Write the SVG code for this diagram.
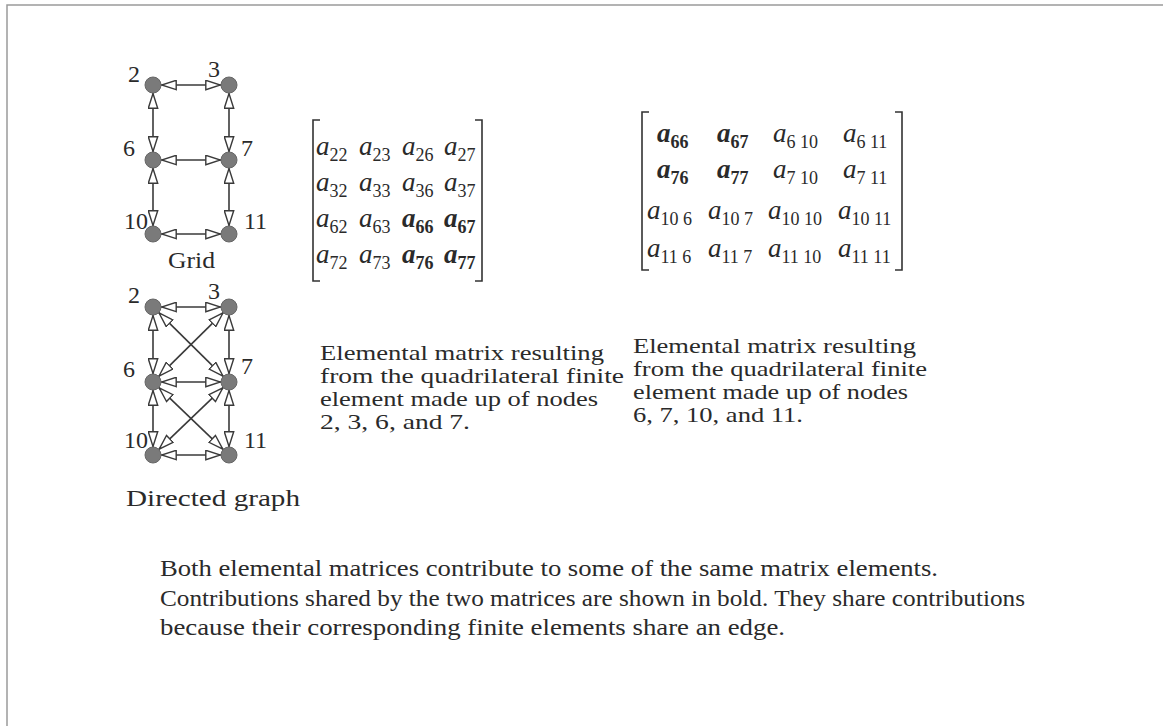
<svg xmlns="http://www.w3.org/2000/svg" width="1163" height="726" viewBox="0 0 1163 726">
<defs>
<style>
.t{font-family:"Liberation Serif","Times New Roman",serif;fill:#2a2a2a}
.lbl{font-size:24px}
.txt{font-size:24px}
.cap{font-size:21px}
.a{font-style:italic;font-size:27px}
.s{font-style:normal;font-size:18px}
.b{font-weight:bold}
.edge{stroke:#3a3a3a;stroke-width:1.6;fill:none;marker-start:url(#ah);marker-end:url(#ah)}
.node{fill:#7a7a7a;stroke:#666;stroke-width:1}
.br{stroke:#333;stroke-width:1.6;fill:none}
</style>
<marker id="ah" viewBox="0 0 16 11" refX="16" refY="5.5" markerWidth="16" markerHeight="11" orient="auto-start-reverse" markerUnits="userSpaceOnUse">
<path d="M0.8,0.8 L15.5,5.5 L0.8,10.2 z" fill="#fff" stroke="#3a3a3a" stroke-width="1.4"/>
</marker>
</defs>
<rect width="1163" height="726" fill="#fff"/>
<g id="frame"><path d="M7,726 L7,5 L1163,5" stroke="#9a9a9a" stroke-width="1.5" fill="none"/></g>

<g id="grid-connectors">
<line class="edge" x1="161" y1="85" x2="221" y2="85"/>
<line class="edge" x1="161" y1="160" x2="221" y2="160"/>
<line class="edge" x1="161" y1="234" x2="221" y2="234"/>
<line class="edge" x1="153" y1="93" x2="153" y2="152"/>
<line class="edge" x1="153" y1="168" x2="153" y2="226"/>
<line class="edge" x1="229" y1="93" x2="229" y2="152"/>
<line class="edge" x1="229" y1="168" x2="229" y2="226"/>
</g>
<g id="grid-n2"><circle class="node" cx="153" cy="85" r="8"/><text class="t lbl" x="128" y="82">2</text></g>
<g id="grid-n3"><circle class="node" cx="229" cy="85" r="8"/><text class="t lbl" x="208" y="77">3</text></g>
<g id="grid-n6"><circle class="node" cx="153" cy="160" r="8"/><text class="t lbl" x="123" y="156">6</text></g>
<g id="grid-n7"><circle class="node" cx="229" cy="160" r="8"/><text class="t lbl" x="241" y="156">7</text></g>
<g id="grid-n10"><circle class="node" cx="153" cy="234" r="8"/><text class="t lbl" x="124" y="229">10</text></g>
<g id="grid-n11"><circle class="node" cx="229" cy="234" r="8"/><text class="t lbl" x="244" y="229">11</text></g>
<g id="grid-label"><text class="t txt" x="168" y="268" textLength="47" lengthAdjust="spacingAndGlyphs">Grid</text></g>

<g id="dg-connectors">
<line class="edge" x1="161" y1="307" x2="221" y2="307"/>
<line class="edge" x1="161" y1="382" x2="221" y2="382"/>
<line class="edge" x1="161" y1="455" x2="221" y2="455"/>
<line class="edge" x1="153" y1="315" x2="153" y2="374"/>
<line class="edge" x1="153" y1="390" x2="153" y2="447"/>
<line class="edge" x1="229" y1="315" x2="229" y2="374"/>
<line class="edge" x1="229" y1="390" x2="229" y2="447"/>
<line class="edge" x1="158.7" y1="312.6" x2="223.3" y2="376.4"/>
<line class="edge" x1="223.3" y1="312.6" x2="158.7" y2="376.4"/>
<line class="edge" x1="158.8" y1="387.6" x2="223.2" y2="449.4"/>
<line class="edge" x1="223.2" y1="387.6" x2="158.8" y2="449.4"/>
</g>
<g id="dg-n2"><circle class="node" cx="153" cy="307" r="8"/><text class="t lbl" x="128" y="303">2</text></g>
<g id="dg-n3"><circle class="node" cx="229" cy="307" r="8"/><text class="t lbl" x="208" y="299">3</text></g>
<g id="dg-n6"><circle class="node" cx="153" cy="382" r="8"/><text class="t lbl" x="123" y="377">6</text></g>
<g id="dg-n7"><circle class="node" cx="229" cy="382" r="8"/><text class="t lbl" x="241" y="374">7</text></g>
<g id="dg-n10"><circle class="node" cx="153" cy="455" r="8"/><text class="t lbl" x="124" y="448">10</text></g>
<g id="dg-n11"><circle class="node" cx="229" cy="455" r="8"/><text class="t lbl" x="244" y="448">11</text></g>
<g id="dg-label"><text class="t txt" x="126" y="506" textLength="174" lengthAdjust="spacingAndGlyphs">Directed graph</text></g>

<g id="matrix1">
<path class="br" d="M320,120 L313,120 L313,281 L320,281"/>
<path class="br" d="M475,120 L482,120 L482,281 L475,281"/>
<text class="t a" x="316" y="155">a<tspan class="s" dy="6">22</tspan></text>
<text class="t a" x="359" y="155">a<tspan class="s" dy="6">23</tspan></text>
<text class="t a" x="402" y="155">a<tspan class="s" dy="6">26</tspan></text>
<text class="t a" x="444" y="155">a<tspan class="s" dy="6">27</tspan></text>
<text class="t a" x="316" y="191">a<tspan class="s" dy="6">32</tspan></text>
<text class="t a" x="359" y="191">a<tspan class="s" dy="6">33</tspan></text>
<text class="t a" x="402" y="191">a<tspan class="s" dy="6">36</tspan></text>
<text class="t a" x="444" y="191">a<tspan class="s" dy="6">37</tspan></text>
<text class="t a" x="316" y="227">a<tspan class="s" dy="6">62</tspan></text>
<text class="t a" x="359" y="227">a<tspan class="s" dy="6">63</tspan></text>
<text class="t a b" x="402" y="227">a<tspan class="s b" dy="6">66</tspan></text>
<text class="t a b" x="444" y="227">a<tspan class="s b" dy="6">67</tspan></text>
<text class="t a" x="316" y="263">a<tspan class="s" dy="6">72</tspan></text>
<text class="t a" x="359" y="263">a<tspan class="s" dy="6">73</tspan></text>
<text class="t a b" x="402" y="263">a<tspan class="s b" dy="6">76</tspan></text>
<text class="t a b" x="444" y="263">a<tspan class="s b" dy="6">77</tspan></text>
</g>

<g id="matrix2">
<path class="br" d="M649,112 L642,112 L642,270 L649,270"/>
<path class="br" d="M895,112 L902,112 L902,270 L895,270"/>
<text class="t a b" x="657" y="142">a<tspan class="s b" dy="6">66</tspan></text>
<text class="t a b" x="717" y="142">a<tspan class="s b" dy="6">67</tspan></text>
<text class="t a" x="773" y="142">a<tspan class="s" dy="6">6 10</tspan></text>
<text class="t a" x="843" y="142">a<tspan class="s" dy="6">6 11</tspan></text>
<text class="t a b" x="657" y="178">a<tspan class="s b" dy="6">76</tspan></text>
<text class="t a b" x="717" y="178">a<tspan class="s b" dy="6">77</tspan></text>
<text class="t a" x="773" y="178">a<tspan class="s" dy="6">7 10</tspan></text>
<text class="t a" x="843" y="178">a<tspan class="s" dy="6">7 11</tspan></text>
<text class="t a" x="647" y="219">a<tspan class="s" dy="6">10 6</tspan></text>
<text class="t a" x="708" y="219">a<tspan class="s" dy="6">10 7</tspan></text>
<text class="t a" x="768" y="219">a<tspan class="s" dy="6">10 10</tspan></text>
<text class="t a" x="838" y="219">a<tspan class="s" dy="6">10 11</tspan></text>
<text class="t a" x="647" y="257">a<tspan class="s" dy="6">11 6</tspan></text>
<text class="t a" x="708" y="257">a<tspan class="s" dy="6">11 7</tspan></text>
<text class="t a" x="768" y="257">a<tspan class="s" dy="6">11 10</tspan></text>
<text class="t a" x="838" y="257">a<tspan class="s" dy="6">11 11</tspan></text>
</g>

<g id="caption1">
<text class="t cap" x="320" y="360" textLength="284" lengthAdjust="spacingAndGlyphs">Elemental matrix resulting</text>
<text class="t cap" x="320" y="383" textLength="304" lengthAdjust="spacingAndGlyphs">from the quadrilateral finite</text>
<text class="t cap" x="320" y="406" textLength="278" lengthAdjust="spacingAndGlyphs">element made up of nodes</text>
<text class="t cap" x="320" y="429" textLength="150" lengthAdjust="spacingAndGlyphs">2, 3, 6, and 7.</text>
</g>
<g id="caption2">
<text class="t cap" x="633" y="353" textLength="283" lengthAdjust="spacingAndGlyphs">Elemental matrix resulting</text>
<text class="t cap" x="633" y="376" textLength="294" lengthAdjust="spacingAndGlyphs">from the quadrilateral finite</text>
<text class="t cap" x="633" y="399" textLength="275" lengthAdjust="spacingAndGlyphs">element made up of nodes</text>
<text class="t cap" x="633" y="422" textLength="170" lengthAdjust="spacingAndGlyphs">6, 7, 10, and 11.</text>
</g>
<g id="footnote">
<text class="t txt" x="160" y="576" textLength="778" lengthAdjust="spacingAndGlyphs">Both elemental matrices contribute to some of the same matrix elements.</text>
<text class="t txt" x="160" y="606" textLength="865" lengthAdjust="spacingAndGlyphs">Contributions shared by the two matrices are shown in bold. They share contributions</text>
<text class="t txt" x="160" y="635" textLength="625" lengthAdjust="spacingAndGlyphs">because their corresponding finite elements share an edge.</text>
</g>
</svg>
